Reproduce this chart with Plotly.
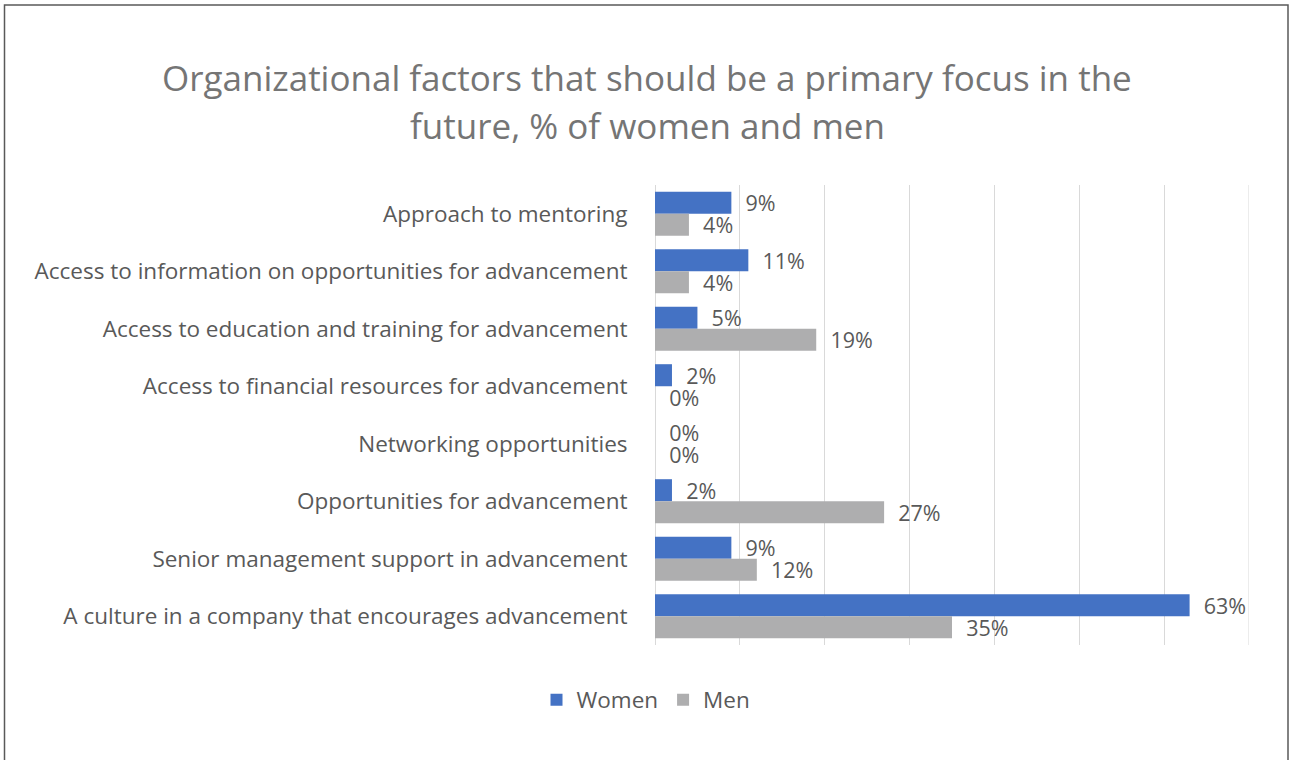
import plotly.graph_objects as go

# Survey results: share of respondents naming each factor
categories = [
    "Approach to mentoring",
    "Access to information on opportunities for advancement",
    "Access to education and training for advancement",
    "Access to financial resources for advancement",
    "Networking opportunities",
    "Opportunities for advancement",
    "Senior management support in advancement",
    "A culture in a company that encourages advancement",
]
women = [9, 11, 5, 2, 0, 2, 9, 63]
men = [4, 4, 19, 0, 0, 27, 12, 35]

FONT = "Open Sans"
TEXT_GREY = "#595959"
GRID = "#D9D9D9"
PAD = "\u00a0\u00a0"
LABEL_SIZE = 22.5
VALUE_SIZE = 21.5
X_MAX = 70

W, H = 1290, 760
L, R, T, B = 655, 41, 185, 115
PW, PH = W - L - R, H - T - B


def px(x):
    return (x - L) / PW


def py(y):
    return (H - B - y) / PH


fig = go.Figure()
for name, vals, color in [("Women", women, "#4472C4"), ("Men", men, "#AEAEAF")]:
    fig.add_trace(go.Bar(
        name=name, y=categories, x=vals, orientation="h",
        marker=dict(color=color, line=dict(width=0)),
        text=[PAD + f"{v}%" for v in vals], textposition="outside",
        textfont=dict(family=FONT, size=VALUE_SIZE, color=TEXT_GREY),
        constraintext="none", cliponaxis=False,
    ))

fig.update_layout(
    width=W, height=H,
    margin=dict(l=L, r=R, t=T, b=B),
    paper_bgcolor="white", plot_bgcolor="white",
    barmode="group", bargap=0.233, bargroupgap=0,
    font=dict(family=FONT, color=TEXT_GREY),
    showlegend=True,
    legend=dict(
        orientation="h", x=px(646), xanchor="center", y=py(700), yanchor="middle",
        font=dict(family=FONT, size=LABEL_SIZE, color=TEXT_GREY),
        itemwidth=30,
    ),
    xaxis=dict(
        range=[0, X_MAX], tick0=0, dtick=10, showticklabels=False,
        showgrid=True, gridcolor=GRID, gridwidth=1,
        zeroline=True, zerolinecolor=GRID, zerolinewidth=1,
        showline=False, fixedrange=True,
    ),
    yaxis=dict(
        autorange="reversed", showgrid=False, showline=False, zeroline=False,
        ticks="outside", ticklen=22, tickcolor="rgba(0,0,0,0)",
        tickfont=dict(family=FONT, size=LABEL_SIZE, color=TEXT_GREY),
    ),
    annotations=[
        dict(text="Organizational factors that should be a primary focus in the",
             xref="paper", yref="paper", x=px(647), y=py(77),
             xanchor="center", yanchor="middle", showarrow=False,
             font=dict(family=FONT, size=35, color="#757575")),
        dict(text="future, % of women and men",
             xref="paper", yref="paper", x=px(647), y=py(125),
             xanchor="center", yanchor="middle", showarrow=False,
             font=dict(family=FONT, size=35, color="#757575")),
    ],
    shapes=[
        # closing gridline at the right end of the value axis
        dict(type="line", xref="x", yref="paper", x0=X_MAX, x1=X_MAX, y0=0, y1=1,
             line=dict(color=GRID, width=1), layer="below"),
        # chart frame
        dict(type="rect", xref="paper", yref="paper",
             x0=px(4.5), x1=px(1288), y0=py(5), y1=py(770),
             line=dict(color="#595959", width=1.5), fillcolor="rgba(0,0,0,0)",
             layer="above"),
    ],
)

fig.write_html("out.html")
